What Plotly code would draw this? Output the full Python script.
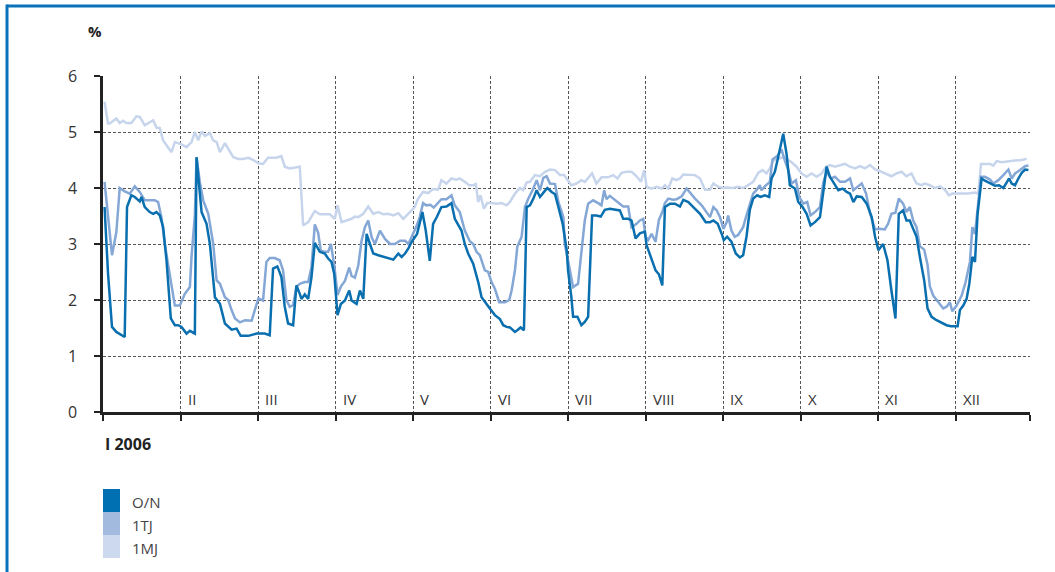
import plotly.graph_objects as go

# ---- data (x in month units: 0 = start of Jan 2006, 1 = start of Feb, ...) ----
on_x = [0.02,0.065,0.116,0.172,0.28,0.31,0.366,0.41,0.474,0.496,0.539,0.603,0.647,0.69,0.733,0.776,0.819,0.875,0.927,0.97,1.013,1.078,1.121,1.185,1.207,1.272,1.336,1.379,1.444,1.509,1.573,1.616,1.659,1.724,1.776,1.875,1.94,1.983,
        2.022,2.086,2.151,2.194,2.25,2.302,2.345,2.388,2.453,2.496,2.539,2.56,2.603,2.647,2.69,2.733,2.797,2.862,2.905,2.948,2.983,3.026,3.069,3.121,3.177,3.207,3.272,3.315,3.358,3.401,3.444,3.487,3.552,3.616,3.681,3.746,3.81,3.853,3.897,3.94,3.983,
        4.0,4.052,4.121,4.164,4.216,4.259,4.31,4.366,4.431,4.496,4.539,4.582,4.625,4.668,4.711,4.776,4.841,4.884,4.927,4.991,5.056,5.121,5.164,5.207,5.25,5.315,5.345,5.388,5.431,5.466,5.509,5.552,5.595,5.638,5.69,5.733,5.789,5.832,5.875,5.931,5.983,
        6.0,6.043,6.065,6.121,6.172,6.216,6.259,6.31,6.366,6.422,6.474,6.539,6.603,6.668,6.711,6.776,6.819,6.871,6.927,6.991,7.013,7.069,7.129,7.172,7.216,7.25,7.315,7.379,7.444,7.487,7.552,7.616,7.703,7.776,7.832,7.875,7.931,7.983,
        8.009,8.052,8.108,8.164,8.216,8.259,8.302,8.345,8.388,8.44,8.483,8.539,8.595,8.625,8.668,8.711,8.746,8.776,8.819,8.862,8.927,8.97,9.026,9.078,9.129,9.185,9.25,9.293,9.336,9.379,9.444,9.487,9.543,9.595,9.638,9.681,9.724,9.789,9.853,9.918,9.961,10.004,
        10.065,10.121,10.172,10.224,10.267,10.323,10.366,10.409,10.453,10.496,10.539,10.595,10.638,10.69,10.754,10.819,10.884,10.94,11.026,11.056,11.099,11.142,11.177,11.216,11.25,11.284,11.336,11.379,11.444,11.509,11.56,11.616,11.66,11.69,11.724,11.767,11.81,11.853,11.897,11.94]
on_y = [3.66,2.47,1.52,1.43,1.34,3.66,3.87,3.84,3.76,3.84,3.66,3.57,3.54,3.57,3.51,3.3,2.71,1.67,1.55,1.55,1.52,1.4,1.45,1.4,4.55,3.57,3.36,3.0,2.05,1.93,1.58,1.52,1.47,1.49,1.36,1.36,1.39,1.4,
        1.4,1.4,1.37,2.56,2.6,2.41,1.88,1.58,1.55,2.26,2.11,2.02,2.1,2.02,2.41,3.02,2.86,2.83,2.74,2.68,2.47,1.73,1.93,1.99,2.17,1.99,1.93,2.17,2.02,3.18,3.0,2.83,2.80,2.77,2.74,2.72,2.83,2.77,2.83,2.92,3.04,
        3.07,3.18,3.57,3.24,2.7,3.36,3.49,3.66,3.67,3.73,3.45,3.35,3.24,3.0,2.83,2.65,2.32,2.05,1.96,1.85,1.73,1.66,1.55,1.52,1.51,1.43,1.46,1.51,1.46,3.66,3.69,3.81,3.96,3.84,3.93,4.0,3.93,3.89,3.66,3.36,2.89,
        2.53,2.05,1.7,1.7,1.55,1.61,1.7,3.51,3.51,3.49,3.61,3.63,3.61,3.6,3.45,3.45,3.42,3.1,3.19,3.22,2.98,2.77,2.53,2.46,2.26,3.66,3.72,3.72,3.67,3.79,3.75,3.66,3.54,3.39,3.39,3.42,3.36,3.18,
        3.07,3.13,3.04,2.83,2.76,2.8,3.13,3.61,3.81,3.87,3.84,3.87,3.84,4.17,4.29,4.55,4.76,4.97,4.61,4.05,3.99,3.75,3.66,3.54,3.33,3.39,3.48,3.96,4.38,4.2,4.05,3.96,3.99,3.93,3.9,3.75,3.85,3.84,3.72,3.48,3.13,2.89,
        3.0,2.71,2.17,1.67,3.54,3.6,3.42,3.42,3.27,3.13,2.77,2.35,1.85,1.7,1.64,1.59,1.55,1.53,1.53,1.82,1.9,2.02,2.29,2.77,2.68,3.54,4.17,4.13,4.08,4.04,4.05,4.0,4.1,4.17,4.08,4.05,4.17,4.27,4.33,4.32]

tj_x = [0.02,0.116,0.172,0.216,0.28,0.345,0.41,0.474,0.539,0.603,0.668,0.711,0.754,0.797,0.862,0.927,0.991,1.056,1.121,1.142,1.185,1.207,1.25,1.293,1.358,1.422,1.466,1.509,1.573,1.616,1.659,1.703,1.767,1.832,1.918,1.961,2.004,
        2.022,2.065,2.108,2.151,2.216,2.28,2.323,2.366,2.409,2.453,2.496,2.539,2.603,2.647,2.69,2.733,2.776,2.81,2.862,2.905,2.94,2.983,3.026,3.069,3.121,3.177,3.207,3.25,3.293,3.336,3.379,3.422,3.466,3.509,3.573,3.638,3.703,3.767,3.832,3.897,3.94,3.983,
        4.0,4.043,4.086,4.129,4.172,4.224,4.267,4.323,4.366,4.431,4.496,4.539,4.603,4.668,4.733,4.776,4.819,4.862,4.927,4.97,5.013,5.056,5.112,5.185,5.241,5.272,5.315,5.345,5.401,5.444,5.487,5.552,5.595,5.638,5.681,5.724,5.767,5.832,5.875,5.94,
        5.957,6.0,6.043,6.065,6.129,6.164,6.216,6.259,6.323,6.388,6.431,6.466,6.496,6.539,6.603,6.668,6.711,6.776,6.819,6.884,6.927,6.97,7.0,7.034,7.078,7.129,7.172,7.216,7.25,7.293,7.358,7.401,7.466,7.53,7.573,7.638,7.724,7.789,7.832,7.875,7.918,7.961,8.004,8.047,
        8.065,8.108,8.151,8.194,8.259,8.302,8.345,8.388,8.431,8.474,8.496,8.539,8.603,8.638,8.698,8.754,8.797,8.841,8.884,8.94,8.983,9.034,9.086,9.129,9.185,9.25,9.293,9.336,9.392,9.444,9.509,9.573,9.638,9.681,9.733,9.789,9.845,9.897,9.961,
        10.022,10.086,10.129,10.172,10.224,10.267,10.323,10.366,10.409,10.453,10.496,10.539,10.595,10.638,10.668,10.711,10.776,10.841,10.884,10.927,10.957,11.013,11.078,11.129,11.185,11.216,11.25,11.284,11.328,11.379,11.444,11.487,11.552,11.616,11.681,11.724,11.767,11.832,11.897,11.94]
tj_y = [4.11,2.8,3.21,4.0,3.94,3.9,4.03,3.93,3.78,3.78,3.78,3.75,3.48,3.0,2.41,1.9,1.9,2.11,2.23,2.77,3.51,4.55,4.1,3.78,3.54,3.0,2.35,2.29,2.05,2.0,1.82,1.67,1.6,1.64,1.63,1.82,2.03,
        2.02,1.99,2.68,2.75,2.75,2.71,2.53,2.0,1.88,1.91,2.24,2.29,2.32,2.32,2.59,3.35,3.2,2.88,2.86,2.86,3.0,2.63,2.09,2.24,2.34,2.58,2.43,2.40,2.61,3.06,3.3,3.42,3.12,3.0,3.24,3.09,3.0,3.0,3.06,3.06,3.0,3.13,
        3.19,3.31,3.48,3.73,3.69,3.7,3.65,3.73,3.8,3.8,3.87,3.69,3.57,3.24,3.05,3.0,2.86,2.8,2.53,2.5,2.32,2.2,1.96,1.96,2.0,2.17,2.53,2.95,3.13,3.66,3.81,3.99,4.14,3.96,4.18,4.21,4.08,4.07,3.75,3.48,
        3.0,2.71,2.41,2.23,2.29,2.77,3.42,3.72,3.78,3.73,3.69,3.96,3.8,3.86,3.79,3.72,3.67,3.67,3.3,3.36,3.42,3.45,3.13,3.07,3.18,3.04,3.43,3.57,3.73,3.81,3.79,3.8,3.85,3.99,3.91,3.81,3.69,3.57,3.48,3.66,3.6,3.48,3.27,3.39,
        3.51,3.24,3.13,3.16,3.3,3.51,3.72,3.9,3.96,4.05,3.96,4.03,4.11,4.51,4.57,4.69,4.49,4.32,4.08,4.14,3.84,3.72,3.75,3.51,3.57,3.66,4.1,4.29,4.17,4.2,4.11,4.11,4.17,3.96,4.02,4.08,3.9,3.54,3.26,
        3.27,3.26,3.36,3.54,3.56,3.81,3.72,3.57,3.66,3.42,3.3,2.96,2.9,2.63,2.24,2.08,1.96,1.85,1.88,1.96,1.8,1.9,2.08,2.32,2.68,3.3,3.18,3.6,4.2,4.2,4.15,4.08,4.14,4.23,4.33,4.17,4.26,4.32,4.39,4.4]

mj_x = [0.02,0.065,0.086,0.172,0.216,0.259,0.30,0.366,0.431,0.474,0.539,0.603,0.647,0.69,0.733,0.776,0.841,0.884,0.927,1.013,1.078,1.142,1.185,1.228,1.272,1.315,1.379,1.422,1.466,1.509,1.573,1.616,1.681,1.746,1.81,1.875,1.94,2.004,
        2.065,2.129,2.194,2.237,2.302,2.345,2.409,2.474,2.539,2.582,2.647,2.733,2.797,2.862,2.927,2.991,3.026,3.078,3.142,3.207,3.25,3.293,3.358,3.422,3.487,3.552,3.616,3.681,3.746,3.81,3.875,3.94,
        4.022,4.065,4.129,4.194,4.259,4.323,4.366,4.431,4.496,4.56,4.603,4.668,4.724,4.776,4.81,4.841,4.871,4.914,4.957,5.013,5.078,5.142,5.207,5.25,5.315,5.379,5.422,5.466,5.509,5.573,5.638,5.703,5.767,5.832,5.897,5.948,
        6.043,6.108,6.172,6.216,6.259,6.31,6.366,6.431,6.517,6.582,6.638,6.69,6.754,6.819,6.884,6.94,6.983,7.013,7.078,7.142,7.207,7.25,7.293,7.345,7.401,7.444,7.487,7.573,7.638,7.703,7.767,7.832,7.875,7.94,8.004,
        8.043,8.129,8.194,8.259,8.323,8.388,8.453,8.509,8.56,8.603,8.647,8.711,8.776,8.819,8.884,8.948,9.013,9.078,9.142,9.207,9.272,9.328,9.379,9.444,9.509,9.573,9.638,9.703,9.767,9.832,9.897,9.961,10.026,
        10.086,10.172,10.237,10.302,10.366,10.431,10.496,10.56,10.603,10.668,10.733,10.797,10.862,10.914,10.957,11.013,11.078,11.164,11.25,11.293,11.328,11.379,11.444,11.487,11.53,11.595,11.681,11.767,11.853,11.918]
mj_y = [5.54,5.15,5.15,5.24,5.16,5.2,5.16,5.16,5.28,5.27,5.12,5.18,5.21,5.08,5.07,4.85,4.73,4.64,4.82,4.78,4.73,4.82,5.0,4.85,5.01,4.93,4.98,4.85,4.82,4.64,4.8,4.7,4.55,4.52,4.52,4.54,4.5,4.44,
        4.43,4.54,4.54,4.54,4.57,4.38,4.35,4.37,4.38,3.33,3.39,3.59,3.53,3.53,3.53,3.45,3.69,3.39,3.42,3.45,3.49,3.48,3.54,3.67,3.54,3.57,3.53,3.54,3.51,3.55,3.45,3.55,
        3.66,3.81,3.93,3.91,3.98,3.97,4.14,4.08,4.17,4.15,4.17,4.11,4.05,4.05,4.07,3.75,3.87,3.63,3.73,3.73,3.72,3.73,3.69,3.75,3.9,4.0,3.96,4.1,4.11,4.23,4.21,4.29,4.33,4.32,4.23,4.23,
        4.05,4.08,4.14,4.11,4.17,4.26,4.08,4.19,4.19,4.23,4.17,4.27,4.29,4.29,4.21,4.11,4.32,4.02,3.99,4.02,3.99,4.05,3.99,4.17,4.14,4.17,4.24,4.24,4.23,4.17,3.97,3.97,4.08,4.02,4.0,
        4.01,4.0,4.02,4.0,4.05,4.11,4.27,4.32,4.26,4.35,4.49,4.52,4.55,4.52,4.46,4.38,4.26,4.2,4.26,4.2,4.26,4.38,4.41,4.38,4.41,4.43,4.38,4.35,4.39,4.35,4.41,4.33,4.3,
        4.26,4.21,4.26,4.29,4.21,4.26,4.08,4.05,4.08,4.05,4.0,4.03,3.97,3.87,3.9,3.9,3.91,3.9,3.92,3.9,4.43,4.43,4.43,4.40,4.48,4.46,4.48,4.49,4.5,4.52]

month_ticks = [0, 1, 2, 3, 4, 5, 6, 7, 8, 9, 10, 11, 11.96]
month_labels = ["II", "III", "IV", "V", "VI", "VII", "VIII", "IX", "X", "XI", "XII"]
y_ticks = [0, 1, 2, 3, 4, 5, 6]
series_names = ["O/N", "1TJ", "1MJ"]
line_colors = {"O/N": "#0a6faf", "1TJ": "#84a7d6", "1MJ": "#c6d5ec"}
legend_colors = {"O/N": "#0070b3", "1TJ": "#a3badf", "1MJ": "#cdd9ee"}

FONT = "Open Sans, Noto Sans, Arial, sans-serif"
TXT = "#333333"

fig = go.Figure()
for name, xs, ys in [("1MJ", mj_x, mj_y), ("1TJ", tj_x, tj_y), ("O/N", on_x, on_y)]:
    fig.add_trace(go.Scatter(x=xs, y=ys, mode="lines", name=name, showlegend=False,
                             hoverinfo="skip",
                             line=dict(color=line_colors[name], width=2.5)))

W, H = 1055, 572
ml, mr, mt, mb = 103, 25, 76, 160
pw, ph = W - ml - mr, H - mt - mb

def px(xpix):
    return (xpix - ml) / pw

def py(ypix):
    return (H - mb - ypix) / ph

annotations = []
for i, lab in enumerate(month_labels):
    annotations.append(dict(x=i + 1, y=0, xref="x", yref="y", text=lab, showarrow=False,
                            xanchor="left", yanchor="bottom", xshift=5, yshift=1,
                            font=dict(family=FONT, size=15, color=TXT)))
annotations.append(dict(x=px(95), y=py(31), xref="paper", yref="paper", text="<b>%</b>",
                        showarrow=False, xanchor="center", yanchor="middle",
                        font=dict(family=FONT, size=15, color="#222")))
annotations.append(dict(x=0, y=py(444), xref="paper", yref="paper", text="<b>I 2006</b>",
                        showarrow=False, xanchor="left", yanchor="middle",
                        font=dict(family=FONT, size=16, color="#222")))

shapes = []
leg_top = 489
leg_h = 23
for i, name in enumerate(series_names):
    y0 = leg_top + i * leg_h
    shapes.append(dict(type="rect", xref="paper", yref="paper",
                       x0=px(103), x1=px(120), y0=py(y0 + leg_h), y1=py(y0),
                       fillcolor=legend_colors[name], line=dict(width=0)))
    annotations.append(dict(x=px(130), y=py(y0 + leg_h / 2 + 1), xref="paper", yref="paper",
                            text=name, showarrow=False, xanchor="left", yanchor="middle",
                            font=dict(family=FONT, size=15, color="#444")))

# outer frame (left and top only)
shapes.append(dict(type="line", xref="paper", yref="paper", x0=px(7), x1=px(1060),
                   y0=py(6), y1=py(6), line=dict(color="#0a72b9", width=3)))
shapes.append(dict(type="line", xref="paper", yref="paper", x0=px(7), x1=px(7),
                   y0=py(4.5), y1=py(580), line=dict(color="#0a72b9", width=3)))

fig.update_layout(
    width=W, height=H,
    margin=dict(l=ml, r=mr, t=mt, b=mb),
    paper_bgcolor="white", plot_bgcolor="white",
    showlegend=False,
    font=dict(family=FONT, size=15, color=TXT),
    xaxis=dict(range=[0, 11.96], tickmode="array", tickvals=month_ticks, showticklabels=False,
               ticks="outside", ticklen=6, tickwidth=2, tickcolor="#222",
               showgrid=True, gridcolor="#555", gridwidth=1, griddash="3px,2px",
               showline=True, linecolor="#222", linewidth=2.5, zeroline=False),
    yaxis=dict(range=[0, 6], tickmode="array", tickvals=y_ticks,
               ticks="outside", ticklen=6, tickwidth=2, tickcolor="#222",
               tickfont=dict(family=FONT, size=16, color=TXT), ticklabelstandoff=14,
               showgrid=True, gridcolor="#555", gridwidth=1, griddash="3px,2px",
               showline=True, linecolor="#222", linewidth=2.5, zeroline=False),
    annotations=annotations,
    shapes=shapes,
)

fig.write_html("out.html", config={"displayModeBar": False},
               post_script="document.body.style.margin='0px';")
